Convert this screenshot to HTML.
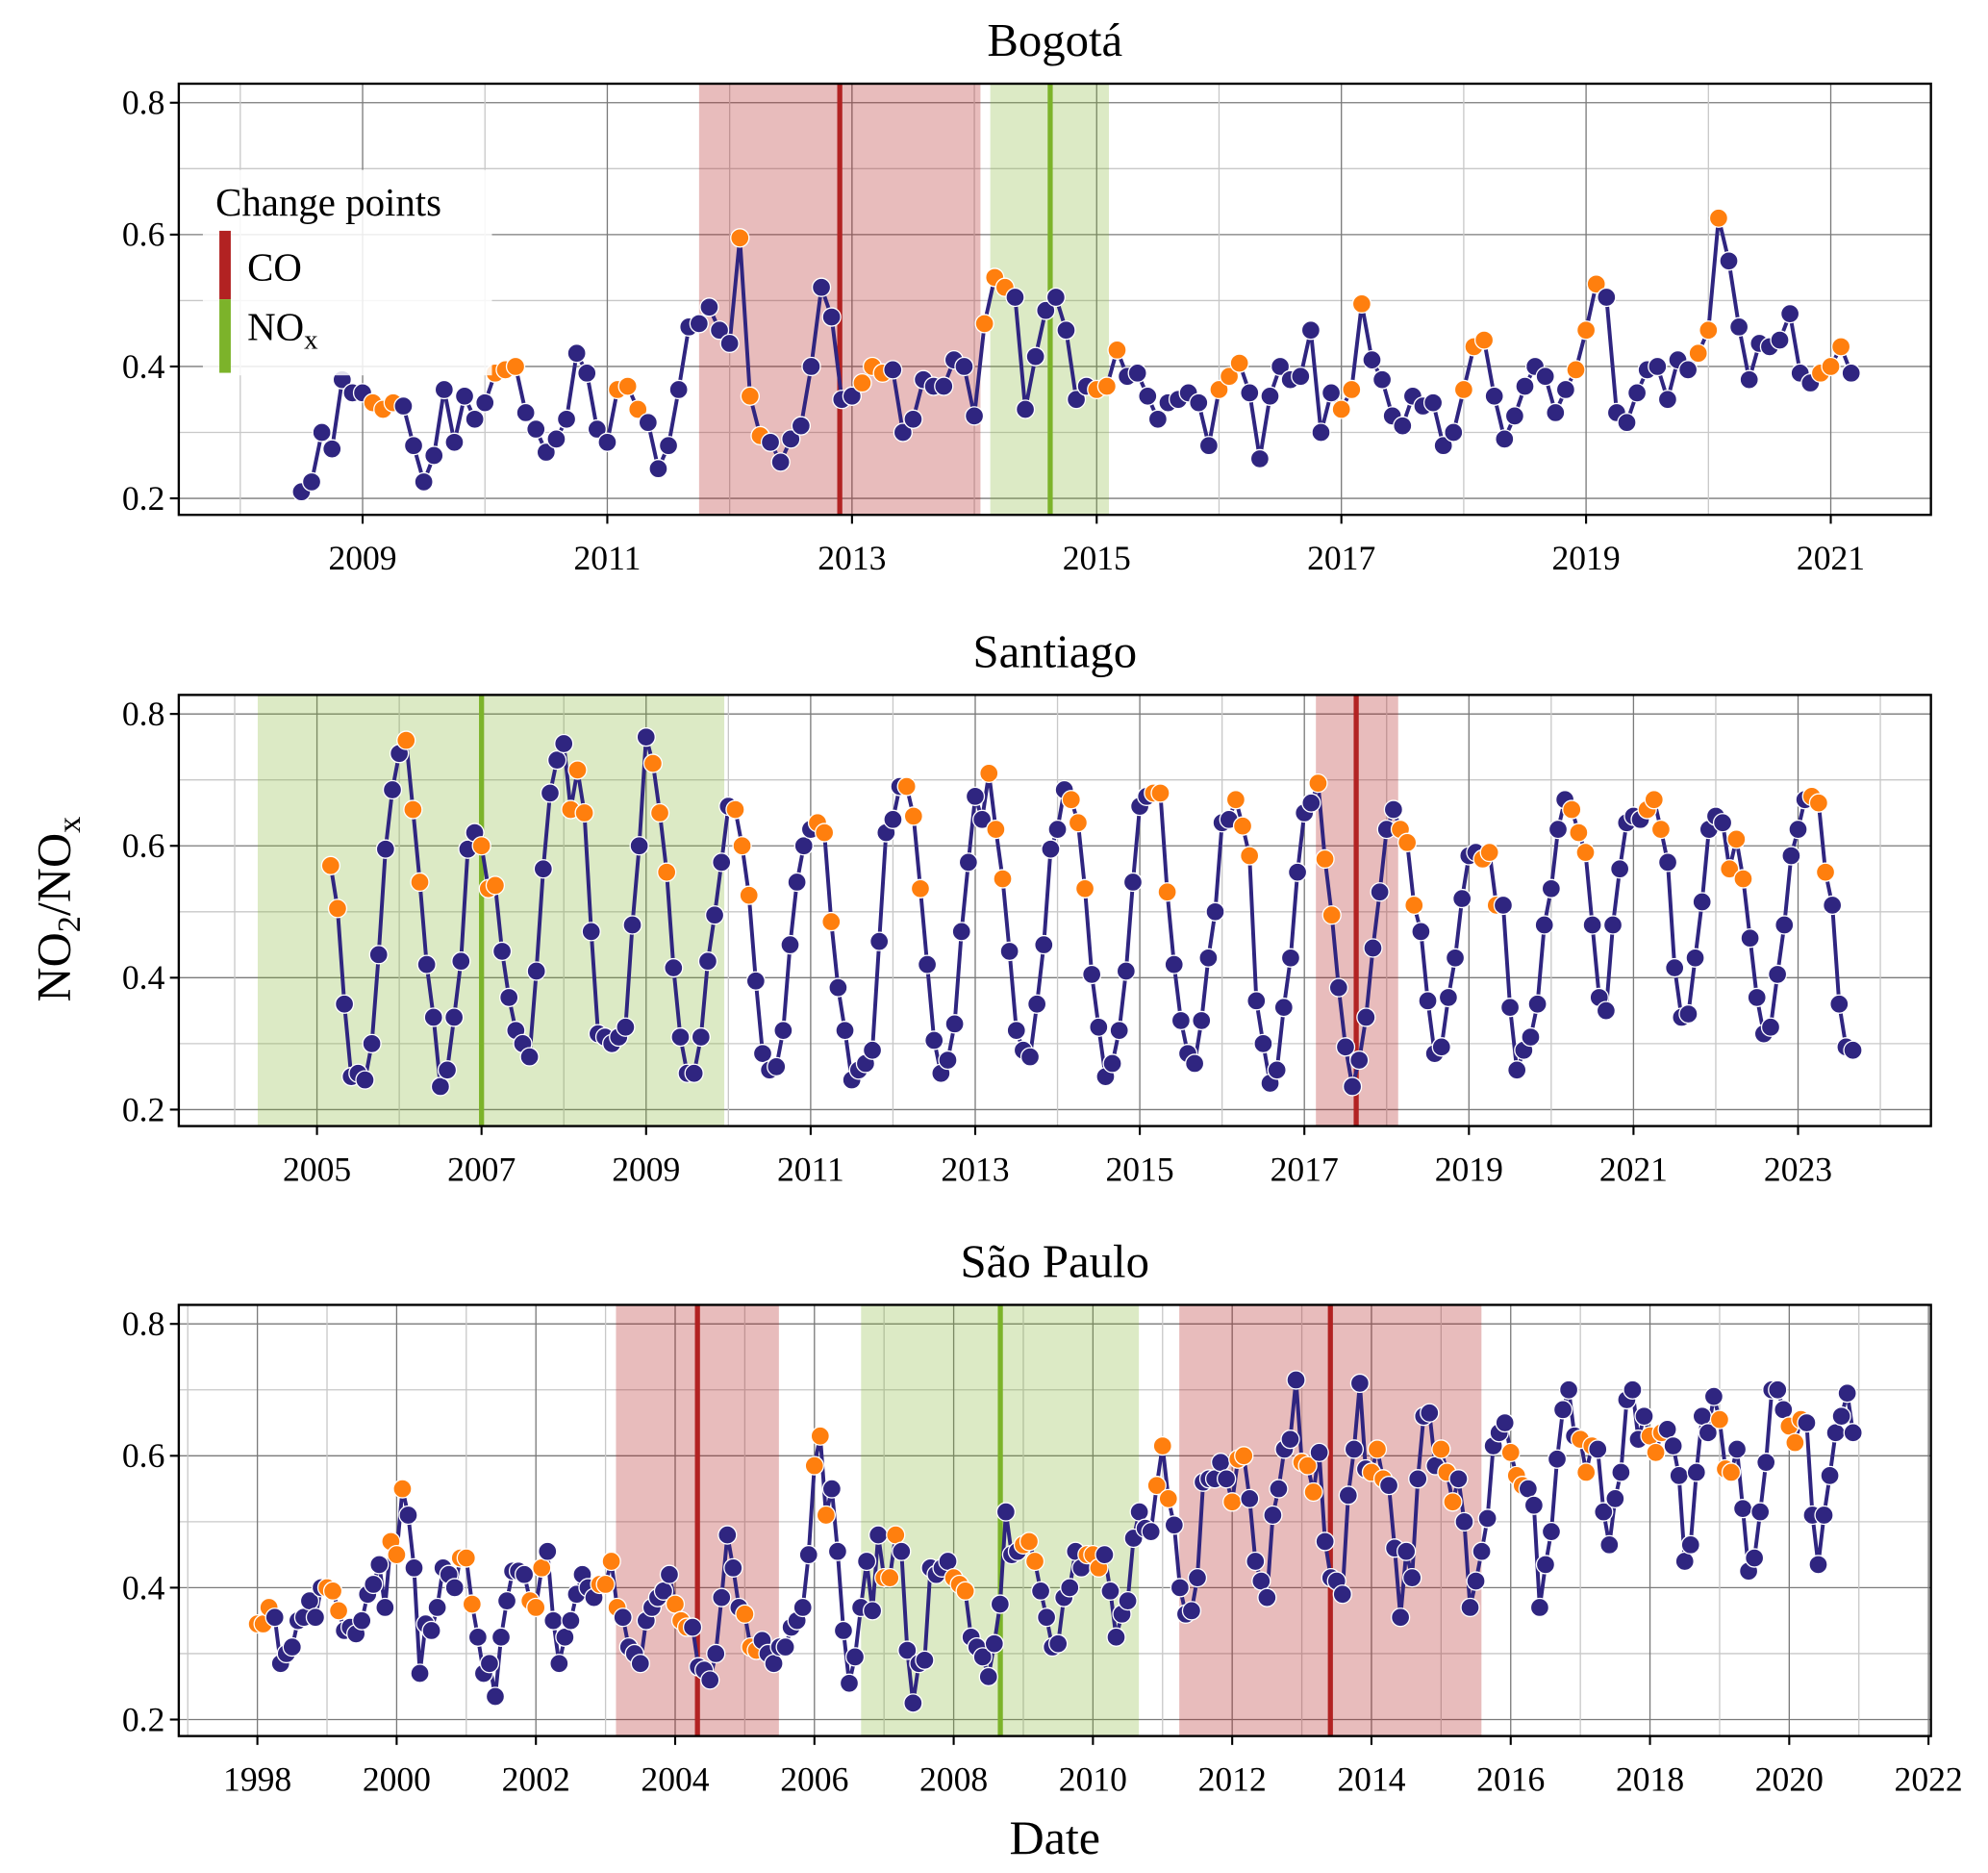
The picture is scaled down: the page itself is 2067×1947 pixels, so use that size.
<!DOCTYPE html>
<html><head><meta charset="utf-8"><title>NO2/NOx change points</title>
<style>
html,body{margin:0;padding:0;background:#fff;}
svg{display:block;font-family:"Liberation Serif",serif;}
</style></head>
<body>
<svg id="chart" width="2067" height="1947" viewBox="0 0 1568 1477" xmlns="http://www.w3.org/2000/svg"></svg>
<script>
// ---------- DATA ----------
const bogotaStart = 2008.5;
const bogotaValues = [0.21,0.225,0.30,0.275,0.38,0.36,0.36,0.345,0.335,0.345,
0.34,0.28,0.225,0.265,0.365,0.285,0.355,0.32,0.345,0.39,
0.395,0.40,0.33,0.305,0.27,0.29,0.32,0.42,0.39,0.305,
0.285,0.365,0.37,0.335,0.315,0.245,0.28,0.365,0.46,0.465,
0.49,0.455,0.435,0.595,0.355,0.295,0.285,0.255,0.29,0.31,
0.40,0.52,0.475,0.35,0.355,0.375,0.40,0.39,0.395,0.30,
0.32,0.38,0.37,0.37,0.41,0.40,0.325,0.465,0.535,0.52,
0.505,0.335,0.415,0.485,0.505,0.455,0.35,0.37,0.365,
0.37,0.425,0.385,0.39,0.355,0.32,0.345,0.35,0.36,0.345,
0.28,0.365,0.385,0.405,0.36,0.26,0.355,0.40,0.38,0.385,
0.455,0.30,0.36,0.335,0.365,0.495,0.41,0.38,0.325,0.31,
0.355,0.34,0.345,0.28,0.30,0.365,0.43,0.44,0.355,0.29,
0.325,0.37,0.40,0.385,0.33,0.365,0.395,0.455,0.525,
0.505,0.33,0.315,0.36,0.395,0.40,0.35,0.41,0.395,0.42,
0.455,0.625,0.56,0.46,0.38,0.435,0.43,0.44,0.48,0.39,
0.375,0.39,0.40,0.43,0.39];
const bogotaOrange = [7,8,9,19,20,21,31,32,33,43,44,45,55,56,57,67,68,69,78,79,80,90,91,92,102,103,104,114,115,116,125,126,127,137,138,139,149,150,151];
const bogotaCOBand = [2011.75, 2014.05];
const bogotaCOLine = 2012.90;
const bogotaNOxBand = [2014.13, 2015.10];
const bogotaNOxLine = 2014.62;
const bogotaTicks = [2009,2011,2013,2015,2017,2019,2021];

const santiagoStart = 2005 + 2/12;
const santiagoValues = [
0.57,0.505,0.36,0.25,0.255,0.245,0.30,0.435,0.595,0.685,
0.74,0.76,0.655,0.545,0.42,0.34,0.235,0.26,0.34,0.425,0.595,0.62,
0.60,0.535,0.54,0.44,0.37,0.32,0.30,0.28,0.41,0.565,0.68,0.73,0.755,
0.655,0.715,0.65,0.47,0.315,0.31,0.30,0.31,0.325,0.48,0.60,0.765,0.725,
0.65,0.56,0.415,0.31,0.255,0.255,0.31,0.425,0.495,0.575,0.66,0.655,
0.60,0.525,0.395,0.285,0.26,0.265,0.32,0.45,0.545,0.60,0.625,0.635,
0.62,0.485,0.385,0.32,0.245,0.26,0.27,0.29,0.455,0.62,0.64,0.69,0.69,
0.645,0.535,0.42,0.305,0.255,0.275,0.33,0.47,0.575,0.675,0.64,0.71,
0.625,0.55,0.44,0.32,0.29,0.28,0.36,0.45,0.595,0.625,0.685,0.67,
0.635,0.535,0.405,0.325,0.25,0.27,0.32,0.41,0.545,0.66,0.675,0.68,
0.68,0.53,0.42,0.335,0.285,0.27,0.335,0.43,0.50,0.635,0.64,0.67,
0.63,0.585,0.365,0.30,0.24,0.26,0.355,0.43,0.56,0.65,0.665,0.695,
0.58,0.495,0.385,0.295,0.235,0.275,0.34,0.445,0.53,0.625,0.655,0.625,
0.605,0.51,0.47,0.365,0.285,0.295,0.37,0.43,0.52,0.585,0.59,0.58,
0.59,0.51,0.51,0.355,0.26,0.29,0.31,0.36,0.48,0.535,0.625,0.67,0.655,
0.62,0.59,0.48,0.37,0.35,0.48,0.565,0.635,0.645,0.64,0.655,0.67,
0.625,0.575,0.415,0.34,0.345,0.43,0.515,0.625,0.645,0.635,0.565,0.61,
0.55,0.46,0.37,0.315,0.325,0.405,0.48,0.585,0.625,0.67,0.675,0.665,
0.56,0.51,0.36,0.295,0.29];
const santiagoOrange = [0,1,11,12,13,22,23,24,35,36,37,47,48,49,59,60,61,71,72,73,84,85,86,96,97,98,108,109,110,120,121,122,132,133,134,144,145,146,156,157,158,168,169,170,181,182,183,192,193,194,204,205,206,216,217,218];
const santiagoNOxBand = [2004.28, 2009.95];
const santiagoNOxLine = 2007.0;
const santiagoCOBand = [2017.14, 2018.14];
const santiagoCOLine = 2017.63;
const santiagoTicks = [2005,2007,2009,2011,2013,2015,2017,2019,2021,2023];

const saoStart = 1998.0;
const saoValues = [
0.345,0.345,0.37,0.355,0.285,0.30,0.31,0.35,0.355,0.38,0.355,0.40,
0.40,0.395,0.365,0.335,0.34,0.33,0.35,0.39,0.405,0.435,0.37,0.47,
0.45,0.55,0.51,0.43,0.27,0.345,0.335,0.37,0.43,0.42,0.40,0.445,
0.445,0.375,0.325,0.27,0.285,0.235,0.325,0.38,0.425,0.425,0.42,0.38,
0.37,0.43,0.455,0.35,0.285,0.325,0.35,0.39,0.42,0.40,0.385,0.405,
0.405,0.44,0.37,0.355,0.31,0.30,0.285,0.35,0.37,0.385,0.395,0.42,
0.375,0.35,0.34,0.34,0.28,0.275,0.26,0.30,0.385,0.48,0.43,0.37,
0.36,0.31,0.305,0.32,0.30,0.285,0.31,0.31,0.34,0.35,0.37,0.45,
0.585,0.63,0.51,0.55,0.455,0.335,0.255,0.295,0.37,0.44,0.365,0.48,
0.415,0.415,0.48,0.455,0.305,0.225,0.285,0.29,0.43,0.42,0.43,0.44,
0.415,0.405,0.395,0.325,0.31,0.295,0.265,0.315,0.375,0.515,0.45,0.455,
0.465,0.47,0.44,0.395,0.355,0.31,0.315,0.385,0.40,0.455,0.43,0.45,
0.45,0.43,0.45,0.395,0.325,0.36,0.38,0.475,0.515,0.49,0.485,0.555,
0.615,0.535,0.495,0.40,0.36,0.365,0.415,0.56,0.565,0.565,0.59,0.565,
0.53,0.595,0.60,0.535,0.44,0.41,0.385,0.51,0.55,0.61,0.625,0.715,
0.59,0.585,0.545,0.605,0.47,0.415,0.41,0.39,0.54,0.61,0.71,0.58,
0.575,0.61,0.565,0.555,0.46,0.355,0.455,0.415,0.565,0.66,0.665,0.585,
0.61,0.575,0.53,0.565,0.50,0.37,0.41,0.455,0.505,0.615,0.635,0.65,
0.605,0.57,0.555,0.55,0.525,0.37,0.435,0.485,0.595,0.67,0.70,0.63,
0.625,0.575,0.615,0.61,0.515,0.465,0.535,0.575,0.685,0.70,0.625,0.66,
0.63,0.605,0.635,0.64,0.615,0.57,0.44,0.465,0.575,0.66,0.635,0.69,
0.655,0.58,0.575,0.61,0.52,0.425,0.445,0.515,0.59,0.70,0.70,0.67,
0.645,0.62,0.655,0.65,0.51,0.435,0.51,0.57,0.635,0.66,0.695,0.635];
const saoOrange = [0,1,2,12,13,14,23,24,25,35,36,37,47,48,49,59,60,61,62,72,73,74,84,85,86,96,97,98,108,109,110,120,121,122,132,133,134,143,144,145,155,156,157,168,169,170,180,181,182,192,193,194,204,205,206,216,217,218,228,229,230,240,241,242,252,253,254,264,265,266];
const saoCOBand1 = [2003.15, 2005.49];
const saoCOLine1 = 2004.32;
const saoNOxBand = [2006.67, 2010.66];
const saoNOxLine = 2008.67;
const saoCOBand2 = [2011.24, 2015.58];
const saoCOLine2 = 2013.41;
const saoTicks = [1998,2000,2002,2004,2006,2008,2010,2012,2014,2016,2018,2020,2022];

const yTicks = [0.2,0.4,0.6,0.8];
const yMinor = [0.3,0.5,0.7];

// ---------- DRAW ----------
const NS = "http://www.w3.org/2000/svg";
const svg = document.getElementById('chart');
function mk(parent, tag, attrs){
  const e = document.createElementNS(NS, tag);
  for (const k in attrs) e.setAttribute(k, attrs[k]);
  parent.appendChild(e);
  return e;
}
const L = 141, R = 1523;
const COL_LINE = '#2f2580', COL_OR = '#ff7f0e', COL_RED = '#b22222', COL_GRN = '#7cb32a';

function panel(cfg){
  const g = mk(svg, 'g', {});
  
  
  const top = cfg.top, bot = cfg.top + 340;
  const y = v => cfg.top + 15 + (0.8 - v) * 520;
  const x = yr => cfg.x0 + (yr - cfg.yr0) * cfg.pxYear;

  const t = mk(g, 'text', {x: (L+R)/2, y: top - 22, 'font-size': 37, 'text-anchor': 'middle', fill: '#000'});
  t.textContent = cfg.title;
  
  

  const clipId = 'clip-' + cfg.name;
  const cp = mk(g, 'clipPath', {id: clipId});
  mk(cp, 'rect', {x: L, y: top, width: R - L, height: 340});
  const inner = mk(g, 'g', {'clip-path': 'url(#' + clipId + ')'});

  for (const v of yMinor) {
    const l = mk(inner, 'line', {x1: L, x2: R, y1: y(v), y2: y(v), stroke: '#c8c8c8', 'stroke-width': 1});
    
    
  }
  for (const v of yTicks) {
    const l = mk(inner, 'line', {x1: L, x2: R, y1: y(v), y2: y(v), stroke: '#7a7a7a', 'stroke-width': 1});
    
    
  }
  const step = cfg.ticks[1] - cfg.ticks[0];
  for (let yr = cfg.ticks[0] - 3*step; yr <= cfg.ticks[cfg.ticks.length-1] + 3*step; yr += step/2) {
    const major = cfg.ticks.includes(yr);
    const l = mk(inner, 'line', {x1: x(yr), x2: x(yr), y1: top, y2: bot, stroke: major ? '#7a7a7a' : '#c8c8c8', 'stroke-width': 1});
    
    
  }

  for (const b of cfg.bands) {
    const r = mk(inner, 'rect', {x: x(b.range[0]), y: top, width: x(b.range[1]) - x(b.range[0]), height: 340,
      fill: b.type === 'CO' ? COL_RED : COL_GRN, 'fill-opacity': b.type === 'CO' ? 0.3 : 0.27});
    
    
  }
  for (const b of cfg.bands) {
    const l = mk(inner, 'line', {x1: x(b.line), x2: x(b.line), y1: top, y2: bot,
      stroke: b.type === 'CO' ? COL_RED : COL_GRN, 'stroke-width': 4});
    
    
  }

  let d = '';
  cfg.values.forEach((v, i) => { d += (i ? 'L' : 'M') + x(cfg.start + i/12).toFixed(2) + ' ' + y(v).toFixed(2); });
  const p = mk(inner, 'path', {d: d, fill: 'none', stroke: COL_LINE, 'stroke-width': 3, 'stroke-linejoin': 'round'});
  
  
  cfg.values.forEach((v, i) => {
    const orange = cfg.orange.includes(i);
    const c = mk(inner, 'circle', {cx: x(cfg.start + i/12), cy: y(v), r: 7.2, fill: orange ? COL_OR : COL_LINE, stroke: '#fff', 'stroke-width': 1});
    
    
  });

  const fr = mk(g, 'rect', {x: L, y: top, width: R - L, height: 340, fill: 'none', stroke: '#000', 'stroke-width': 1.8});
  
  

  for (const v of yTicks) {
    const tk = mk(g, 'line', {x1: L - 7, x2: L, y1: y(v), y2: y(v), stroke: '#000', 'stroke-width': 1.6});
    
    
    const tl = mk(g, 'text', {x: L - 11, y: y(v) + 9, 'font-size': 27, 'text-anchor': 'end', fill: '#000'});
    tl.textContent = v.toFixed(1);
    
    
  }
  for (const yr of cfg.ticks) {
    const tk = mk(g, 'line', {x1: x(yr), x2: x(yr), y1: bot, y2: bot + 7, stroke: '#000', 'stroke-width': 1.6});
    
    
    const tl = mk(g, 'text', {x: x(yr), y: bot + 43, 'font-size': 27, 'text-anchor': 'middle', fill: '#000'});
    tl.textContent = String(yr);
    
    
  }
}

panel({name: 'bogota', title: 'Bogotá', top: 66, x0: 286, yr0: 2009, pxYear: 96.5, ticks: bogotaTicks,
  start: bogotaStart, values: bogotaValues, orange: bogotaOrange,
  bands: [{type: 'CO', range: bogotaCOBand, line: bogotaCOLine}, {type: 'NOx', range: bogotaNOxBand, line: bogotaNOxLine}]});
panel({name: 'santiago', title: 'Santiago', top: 548, x0: 250, yr0: 2005, pxYear: 64.9, ticks: santiagoTicks,
  start: santiagoStart, values: santiagoValues, orange: santiagoOrange,
  bands: [{type: 'NOx', range: santiagoNOxBand, line: santiagoNOxLine}, {type: 'CO', range: santiagoCOBand, line: santiagoCOLine}]});
panel({name: 'sao-paulo', title: 'São Paulo', top: 1029, x0: 203, yr0: 1998, pxYear: 54.92, ticks: saoTicks,
  start: saoStart, values: saoValues, orange: saoOrange,
  bands: [{type: 'CO', range: saoCOBand1, line: saoCOLine1}, {type: 'NOx', range: saoNOxBand, line: saoNOxLine}, {type: 'CO', range: saoCOBand2, line: saoCOLine2}]});

const lg = mk(svg, 'g', {});


const lbg = mk(lg, 'rect', {x: 160, y: 134, width: 228, height: 162, fill: '#fff', 'fill-opacity': 0.85});


const lt = mk(lg, 'text', {x: 170, y: 170, 'font-size': 31, fill: '#000'});
lt.textContent = 'Change points';


const lco = mk(lg, 'rect', {x: 173, y: 182, width: 9, height: 54, fill: COL_RED});


const lnx = mk(lg, 'rect', {x: 173, y: 236, width: 9, height: 58, fill: COL_GRN});


const lcot = mk(lg, 'text', {x: 195, y: 221, 'font-size': 31, fill: '#000'});
lcot.textContent = 'CO';


const lnxt = mk(lg, 'text', {x: 195, y: 268, 'font-size': 31, fill: '#000'});
lnxt.innerHTML = 'NO<tspan font-size="22" dy="7">x</tspan>';



const xt = mk(svg, 'text', {x: 832, y: 1462, 'font-size': 38, 'text-anchor': 'middle', fill: '#000'});
xt.textContent = 'Date';


const yt = mk(svg, 'text', {x: 0, y: 0, 'font-size': 38, 'text-anchor': 'middle', fill: '#000', transform: 'translate(55 717) rotate(-90)'});
yt.innerHTML = 'NO<tspan font-size="26" dy="8">2</tspan><tspan dy="-8">/NO</tspan><tspan font-size="26" dy="8">x</tspan>';


</script>
</body></html>
